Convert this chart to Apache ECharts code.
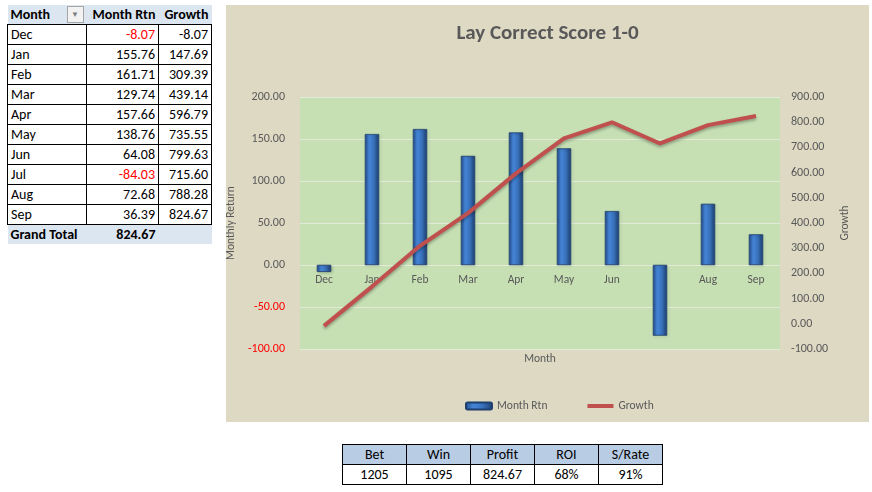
<!DOCTYPE html>
<html>
<head>
<meta charset="utf-8">
<script src="https://cdn.jsdelivr.net/npm/echarts@6/dist/echarts.min.js"></script>
<style>
  body { margin: 0; background: #fff; font-family: Carlito, Lato, "Liberation Sans", sans-serif; color: #000; }
  table { position: absolute; border-collapse: collapse; font-size: 14px; }
  #pivot { left: 7px; top: 5px; }
  #pivot td { height: 19px; line-height: 19px; padding: 0 3px; border: 1px solid #000; white-space: nowrap; }
  #pivot tr.head td, #pivot tr.total td { background: #DCE6F1; font-weight: bold; border-left: none; border-right: none; }
  #pivot tr.head td { border-top: none; }
  #pivot tr.total td { border-bottom: none; }
  #pivot td.num { text-align: right; }
  #pivot .neg { color: #FF0000; }
  .filter { display: inline-block; width: 15px; height: 15px; border: 1px solid #A6A6A6; background: #F2F2F2;
            font-size: 8px; line-height: 15px; text-align: center; color: #7F7F7F; vertical-align: middle; float: right; margin-top: 1px; }
  #summary { left: 342px; top: 444px; }
  #summary td { width: 63px; height: 19px; line-height: 19px; border: 1px solid #000; text-align: center; padding: 0; }
  #summary tr.head td { background: #B8CCE4; }
  #chart { position: absolute; left: 226px; top: 5px; width: 643px; height: 417px; }
</style>
</head>
<body>
<table id="pivot"></table>
<div id="chart"></div>
<table id="summary"></table>

<script>
  // 数据
  var months = ['Dec', 'Jan', 'Feb', 'Mar', 'Apr', 'May', 'Jun', 'Jul', 'Aug', 'Sep'];
  var monthRtn = [-8.07, 155.76, 161.71, 129.74, 157.66, 138.76, 64.08, -84.03, 72.68, 36.39];
  var growth = [-8.07, 147.69, 309.39, 439.14, 596.79, 735.55, 799.63, 715.60, 788.28, 824.67];
  var grandTotal = 824.67;
  var summaryHeaders = ['Bet', 'Win', 'Profit', 'ROI', 'S/Rate'];
  var summaryValues = ['1205', '1095', '824.67', '68%', '91%'];

  // 左边的数据透视表
  var html = '<tr class="head"><td style="width:73px">Month<span class="filter">&#9660;</span></td>' +
             '<td class="num" style="width:66px">Month Rtn</td><td class="num" style="width:47px">Growth</td></tr>';
  for (var i = 0; i < months.length; i++) {
    html += '<tr><td>' + months[i] + '</td>' +
            '<td class="num' + (monthRtn[i] < 0 ? ' neg' : '') + '">' + monthRtn[i].toFixed(2) + '</td>' +
            '<td class="num">' + growth[i].toFixed(2) + '</td></tr>';
  }
  html += '<tr class="total"><td>Grand Total</td><td class="num">' + grandTotal.toFixed(2) + '</td><td></td></tr>';
  document.getElementById('pivot').innerHTML = html;

  // 下面的汇总表
  var s = '<tr class="head">';
  summaryHeaders.forEach(function (h) { s += '<td>' + h + '</td>'; });
  s += '</tr><tr>';
  summaryValues.forEach(function (v) { s += '<td>' + v + '</td>'; });
  s += '</tr>';
  document.getElementById('summary').innerHTML = s;

  var grey = '#595959';
  var fontFamily = 'Carlito, Lato, sans-serif';

  var barColor = new echarts.graphic.LinearGradient(0, 0, 1, 0, [
    { offset: 0, color: '#24508F' },
    { offset: 0.3, color: '#4585D6' },
    { offset: 0.6, color: '#3A74C0' },
    { offset: 1, color: '#1D3F70' }
  ]);

  var option = {
    backgroundColor: '#DDD9C3',
    textStyle: { fontFamily: fontFamily },
    title: {
      text: 'Lay Correct Score 1-0',
      left: 'center',
      top: 13,
      textStyle: { fontSize: 21, fontWeight: 'bold', color: grey, fontFamily: fontFamily }
    },
    legend: {
      left: 234,
      bottom: 5,
      itemWidth: 26,
      itemHeight: 7,
      itemGap: 40,
      textStyle: { color: grey, fontSize: 11.5 },
      data: [
        { name: 'Month Rtn' },
        { name: 'Growth', icon: 'path://M0,0 L26,0 L26,4 L0,4 Z' }
      ]
    },
    grid: {
      left: 74,
      right: 89,
      top: 92,
      height: 252,
      outerBoundsMode: 'none',
      show: true,
      backgroundColor: '#C6E0B4',
      borderWidth: 0
    },
    xAxis: {
      type: 'category',
      data: months,
      name: 'Month',
      nameLocation: 'middle',
      nameGap: 4,
      nameMoveOverlap: false,
      nameTextStyle: { color: grey, fontSize: 11.5 },
      axisLine: { lineStyle: { color: '#E2EBD8' } },
      axisTick: { show: false },
      // 标签放到0线下面（负的margin）
      axisLabel: { color: grey, fontSize: 11.5, margin: -75 }
    },
    yAxis: [
      {
        type: 'value',
        min: -100,
        max: 200,
        interval: 50,
        name: 'Monthly Return',
        nameLocation: 'middle',
        nameGap: 55,
        nameRotate: 90,
        nameTextStyle: { color: grey, fontSize: 11.5 },
        axisLine: { show: false },
        axisTick: { show: false },
        axisLabel: {
          fontSize: 12,
          margin: 15,
          formatter: function (v) { return v.toFixed(2); },
          color: function (v) { return Number(v) < 0 ? '#FF0000' : grey; }
        },
        splitLine: { lineStyle: { color: '#E2EBD8' } }
      },
      {
        type: 'value',
        min: -100,
        max: 900,
        interval: 100,
        position: 'right',
        name: 'Growth',
        nameLocation: 'middle',
        nameGap: 54,
        nameRotate: 90,
        nameTextStyle: { color: grey, fontSize: 11.5 },
        axisLine: { show: false },
        axisTick: { show: false },
        axisLabel: {
          fontSize: 12,
          margin: 11,
          color: grey,
          formatter: function (v) { return v.toFixed(2); }
        },
        splitLine: { show: false }
      }
    ],
    series: [
      {
        name: 'Month Rtn',
        type: 'bar',
        barWidth: 14,
        data: monthRtn,
        itemStyle: {
          color: barColor,
          borderColor: '#1F3F6E',
          borderWidth: 0.5,
          shadowColor: 'rgba(0,0,0,0.25)',
          shadowBlur: 3,
          shadowOffsetX: 1,
          shadowOffsetY: 1
        }
      },
      {
        name: 'Growth',
        type: 'line',
        yAxisIndex: 1,
        data: growth,
        symbol: 'none',
        z: 3,
        lineStyle: {
          width: 4,
          color: '#C0504D',
          shadowColor: 'rgba(0,0,0,0.3)',
          shadowBlur: 3,
          shadowOffsetY: 2
        },
        itemStyle: { color: '#C0504D' }
      }
    ]
  };

  var myChart = echarts.init(document.getElementById('chart'));
  myChart.setOption(option);
</script>
</body>
</html>
